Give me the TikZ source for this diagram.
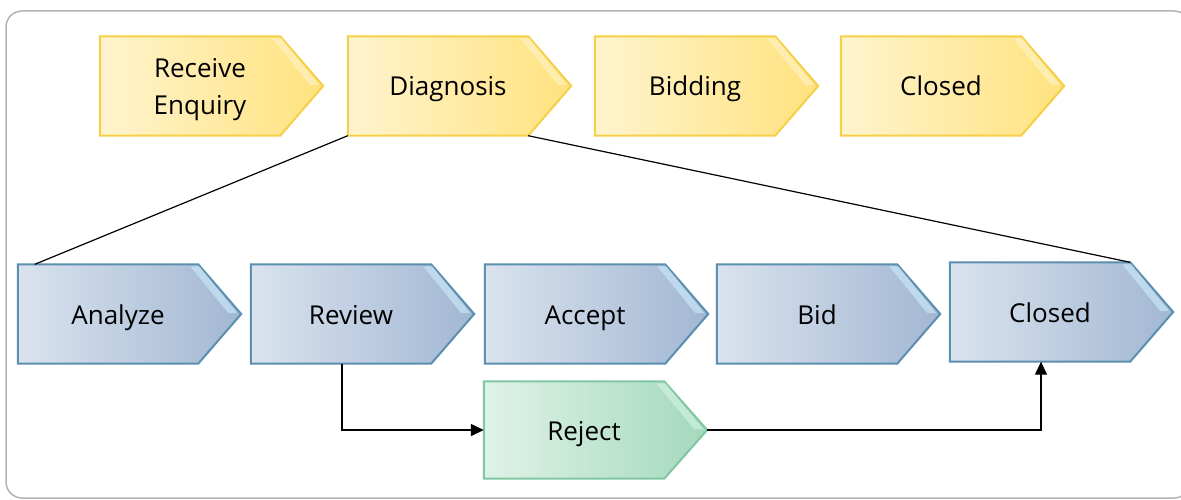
\documentclass[tikz,border=0pt]{standalone}
\usepackage{fontspec}
\setmainfont{Open Sans}
\usetikzlibrary{arrows.meta,backgrounds,calc}

\definecolor{frameGray}{HTML}{B4B4B4}
\definecolor{yEdge}{HTML}{F6CF47}
\definecolor{yLeft}{HTML}{FFF4CE}
\definecolor{yRight}{HTML}{FFE27E}
\definecolor{yBevel}{HTML}{FFF1BE}
\definecolor{bEdge}{HTML}{5B8FB0}
\definecolor{bLeft}{HTML}{DAE3EE}
\definecolor{bRight}{HTML}{A2B7D3}
\definecolor{bBevel}{HTML}{C6E2F4}
\definecolor{gEdge}{HTML}{7FC6A3}
\definecolor{gLeft}{HTML}{E0F2E8}
\definecolor{gRight}{HTML}{A4D9BD}
\definecolor{gBevel}{HTML}{CDF0DE}

\tikzset{
  label/.style={minimum width=200pt, inner sep=0pt, align=center,
    font=\fontsize{26}{37}\selectfont, text=black},
  tall/.style={label, minimum height=99pt, text height=20pt, text depth=0pt},
  short/.style={label, minimum height=97pt, text height=21pt, text depth=0pt},
  twoline/.style={label, minimum height=99pt},
  flow/.style={line width=1.4pt, -{Triangle[length=13pt,width=12pt]}},
  zoomline/.style={line width=1.2pt},
  chevfill/.style n args={3}{draw=#1, line width=2pt, line join=miter,
    left color=#2, right color=#3},
}

% Chevron outline round a label node: body 180 wide, point 43 deep.
% Optional argument: vertical offset of the outline from the node.
\newcommand{\chevron}[5][0pt]{%
  \path[chevfill={#3}{#4}{#5}]
    ([yshift=#1]#2.north west) -- ([yshift=#1,xshift=-20pt]#2.north east)
    -- ([yshift=#1,xshift=23pt]#2.east)
    -- ([yshift=#1,xshift=-20pt]#2.south east)
    -- ([yshift=#1]#2.south west) -- cycle;
}
\newcommand{\bevel}[3][0pt]{%
  \fill[#3, opacity=0.75]
    ([yshift=#1,xshift=-19pt,yshift=-2pt]#2.north east)
    -- ([yshift=#1,xshift=19pt,yshift=1pt]#2.east)
    -- ([yshift=#1,xshift=10pt,yshift=1pt]#2.east)
    -- ([yshift=#1,xshift=-28pt,yshift=-2pt]#2.north east) -- cycle;
}

\begin{document}
\begin{tikzpicture}[x=1pt, y=-1pt]
  \useasboundingbox (0,0) rectangle (1181,500);
  \draw[frameGray, line width=1.5pt, rounded corners=16pt]
    (6,11) rectangle (1190,498);

  % top row: phases
  \node[twoline, yshift=-4pt] (recv) at (200,86) {Receive\\Enquiry};
  \node[tall] (diag)    at (448,86) {Diagnosis};
  \node[tall] (bidding) at (695,86) {Bidding};
  \node[tall] (closedA) at (941,86) {Closed};

  % bottom row: steps of the diagnosis phase
  \node[tall] (analyze) at (118,314) {Analyze};
  \node[tall] (review)  at (351,314) {Review};
  \node[tall] (accept)  at (585,314) {Accept};
  \node[tall] (bid)     at (817,314) {Bid};
  \node[tall] (closedB) at (1050,312) {Closed};
  \node[short] (reject) at (584,430) {Reject};

  \coordinate (rejtip) at ([xshift=23pt]reject.east);

  \begin{scope}[on background layer]
    \chevron[4pt]{recv}{yEdge}{yLeft}{yRight}
    \bevel[4pt]{recv}{yBevel}
    \foreach \n in {diag,bidding,closedA}{
      \chevron{\n}{yEdge}{yLeft}{yRight}
      \bevel{\n}{yBevel}
    }
    \foreach \n in {analyze,review,accept,bid,closedB}{
      \chevron{\n}{bEdge}{bLeft}{bRight}
      \bevel{\n}{bBevel}
    }
    \chevron{reject}{gEdge}{gLeft}{gRight}
    \bevel{reject}{gBevel}
  \end{scope}

  % expansion of the Diagnosis phase
  \draw[zoomline] (diag.south west) -- ([xshift=17pt]analyze.north west);
  \draw[zoomline] ([xshift=-20pt]diag.south east)
    -- ([xshift=-20pt]closedB.north east);

  % branch through Reject
  \draw[flow] ([xshift=-9pt]review.south) |- (reject.west);
  \draw[flow] (rejtip) -| ([xshift=-9pt]closedB.south);
\end{tikzpicture}
\end{document}
